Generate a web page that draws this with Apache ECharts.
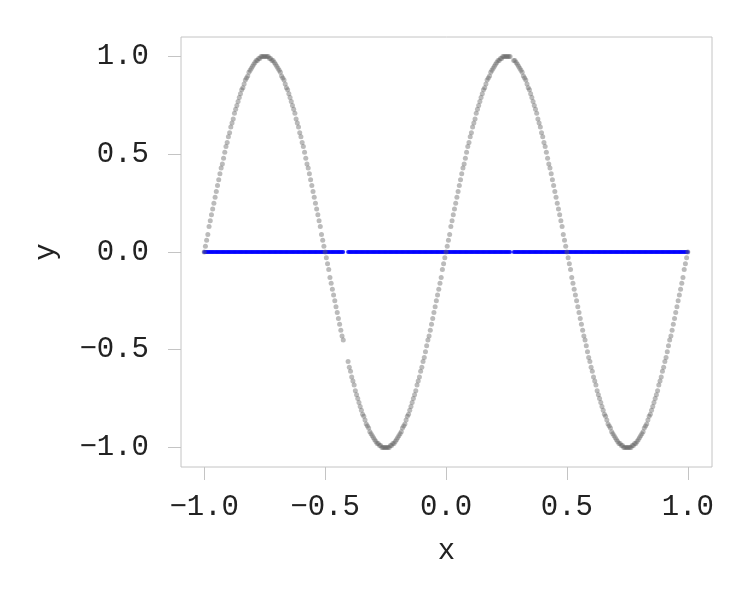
<!DOCTYPE html>
<html>
<head>
<meta charset="utf-8">
<script src="https://cdn.jsdelivr.net/npm/echarts@6/dist/echarts.min.js"></script>
<style>html,body{margin:0;padding:0;background:#fff}#c{width:750px;height:600px}</style>
</head>
<body>
<div id="c"></div>
<script>
const xTicks = [-1, -0.5, 0, 0.5, 1];
const yTicks = [-1, -0.5, 0, 0.5, 1];
const xName = 'x';
const yName = 'y';
const blueLevel = 0;
const grayPoints = [
[-1,0],[-0.995,0.03],[-0.99,0.06],[-0.985,0.09],[-0.98,0.13],[-0.975,0.16],[-0.97,0.19],[-0.965,0.22],[-0.96,0.25],[-0.955,0.28],
[-0.95,0.31],[-0.945,0.34],[-0.94,0.37],[-0.935,0.40],[-0.93,0.43],[-0.925,0.45],[-0.92,0.48],[-0.915,0.51],[-0.91,0.54],[-0.905,0.56],
[-0.9,0.59],[-0.895,0.61],[-0.89,0.64],[-0.885,0.66],[-0.88,0.68],[-0.875,0.71],[-0.87,0.73],[-0.865,0.75],[-0.86,0.77],[-0.855,0.79],
[-0.85,0.81],[-0.845,0.83],[-0.84,0.84],[-0.835,0.86],[-0.83,0.88],[-0.825,0.89],[-0.82,0.90],[-0.815,0.92],[-0.81,0.93],[-0.805,0.94],
[-0.8,0.95],[-0.795,0.96],[-0.79,0.97],[-0.785,0.98],[-0.78,0.98],[-0.775,0.99],[-0.77,0.99],[-0.765,1],[-0.76,1],[-0.755,1],
[-0.75,1],[-0.745,1],[-0.74,1],[-0.735,1],[-0.73,0.99],[-0.725,0.99],[-0.72,0.98],[-0.715,0.98],[-0.71,0.97],[-0.705,0.96],
[-0.7,0.95],[-0.695,0.94],[-0.69,0.93],[-0.685,0.92],[-0.68,0.90],[-0.675,0.89],[-0.67,0.88],[-0.665,0.86],[-0.66,0.84],[-0.655,0.83],
[-0.65,0.81],[-0.645,0.79],[-0.64,0.77],[-0.635,0.75],[-0.63,0.73],[-0.625,0.71],[-0.62,0.68],[-0.615,0.66],[-0.61,0.64],[-0.605,0.61],
[-0.6,0.59],[-0.595,0.56],[-0.59,0.54],[-0.585,0.51],[-0.58,0.48],[-0.575,0.45],[-0.57,0.43],[-0.565,0.40],[-0.56,0.37],[-0.555,0.34],
[-0.55,0.31],[-0.545,0.28],[-0.54,0.25],[-0.535,0.22],[-0.53,0.19],[-0.525,0.16],[-0.52,0.13],[-0.515,0.09],[-0.51,0.06],[-0.505,0.03],
[-0.5,0],[-0.495,-0.03],[-0.49,-0.06],[-0.485,-0.09],[-0.48,-0.13],[-0.475,-0.16],[-0.47,-0.19],[-0.465,-0.22],[-0.46,-0.25],[-0.455,-0.28],
[-0.45,-0.31],[-0.445,-0.34],[-0.44,-0.37],[-0.435,-0.40],[-0.43,-0.43],[-0.425,-0.45],[-0.405,-0.56],
[-0.4,-0.59],[-0.395,-0.61],[-0.39,-0.64],[-0.385,-0.66],[-0.38,-0.68],[-0.375,-0.71],[-0.37,-0.73],[-0.365,-0.75],[-0.36,-0.77],[-0.355,-0.79],
[-0.35,-0.81],[-0.345,-0.83],[-0.34,-0.84],[-0.335,-0.86],[-0.33,-0.88],[-0.325,-0.89],[-0.32,-0.90],[-0.315,-0.92],[-0.31,-0.93],[-0.305,-0.94],
[-0.3,-0.95],[-0.295,-0.96],[-0.29,-0.97],[-0.285,-0.98],[-0.28,-0.98],[-0.275,-0.99],[-0.27,-0.99],[-0.265,-1],[-0.26,-1],[-0.255,-1],
[-0.25,-1],[-0.245,-1],[-0.24,-1],[-0.235,-1],[-0.23,-0.99],[-0.225,-0.99],[-0.22,-0.98],[-0.215,-0.98],[-0.21,-0.97],[-0.205,-0.96],
[-0.2,-0.95],[-0.195,-0.94],[-0.19,-0.93],[-0.185,-0.92],[-0.18,-0.90],[-0.175,-0.89],[-0.17,-0.88],[-0.165,-0.86],[-0.16,-0.84],[-0.155,-0.83],
[-0.15,-0.81],[-0.145,-0.79],[-0.14,-0.77],[-0.135,-0.75],[-0.13,-0.73],[-0.125,-0.71],[-0.12,-0.68],[-0.115,-0.66],[-0.11,-0.64],[-0.105,-0.61],
[-0.1,-0.59],[-0.095,-0.56],[-0.09,-0.54],[-0.085,-0.51],[-0.08,-0.48],[-0.075,-0.45],[-0.07,-0.43],[-0.065,-0.40],[-0.06,-0.37],[-0.055,-0.34],
[-0.05,-0.31],[-0.045,-0.28],[-0.04,-0.25],[-0.035,-0.22],[-0.03,-0.19],[-0.025,-0.16],[-0.02,-0.13],[-0.015,-0.09],[-0.01,-0.06],[-0.005,-0.03],
[0,0],[0.005,0.03],[0.01,0.06],[0.015,0.09],[0.02,0.13],[0.025,0.16],[0.03,0.19],[0.035,0.22],[0.04,0.25],[0.045,0.28],
[0.05,0.31],[0.055,0.34],[0.06,0.37],[0.065,0.40],[0.07,0.43],[0.075,0.45],[0.08,0.48],[0.085,0.51],[0.09,0.54],[0.095,0.56],
[0.1,0.59],[0.105,0.61],[0.11,0.64],[0.115,0.66],[0.12,0.68],[0.125,0.71],[0.13,0.73],[0.135,0.75],[0.14,0.77],[0.145,0.79],
[0.15,0.81],[0.155,0.83],[0.16,0.84],[0.165,0.86],[0.17,0.88],[0.175,0.89],[0.18,0.90],[0.185,0.92],[0.19,0.93],[0.195,0.94],
[0.2,0.95],[0.205,0.96],[0.21,0.97],[0.215,0.98],[0.22,0.98],[0.225,0.99],[0.23,0.99],[0.235,1],[0.24,1],[0.245,1],
[0.25,1],[0.255,1],[0.26,1],[0.265,1],[0.28,0.98],[0.285,0.98],[0.29,0.97],[0.295,0.96],
[0.3,0.95],[0.305,0.94],[0.31,0.93],[0.315,0.92],[0.32,0.90],[0.325,0.89],[0.33,0.88],[0.335,0.86],[0.34,0.84],[0.345,0.83],
[0.35,0.81],[0.355,0.79],[0.36,0.77],[0.365,0.75],[0.37,0.73],[0.375,0.71],[0.38,0.68],[0.385,0.66],[0.39,0.64],[0.395,0.61],
[0.4,0.59],[0.405,0.56],[0.41,0.54],[0.415,0.51],[0.42,0.48],[0.425,0.45],[0.43,0.43],[0.435,0.40],[0.44,0.37],[0.445,0.34],
[0.45,0.31],[0.455,0.28],[0.46,0.25],[0.465,0.22],[0.47,0.19],[0.475,0.16],[0.48,0.13],[0.485,0.09],[0.49,0.06],[0.495,0.03],
[0.5,0],[0.505,-0.03],[0.51,-0.06],[0.515,-0.09],[0.52,-0.13],[0.525,-0.16],[0.53,-0.19],[0.535,-0.22],[0.54,-0.25],[0.545,-0.28],
[0.55,-0.31],[0.555,-0.34],[0.56,-0.37],[0.565,-0.40],[0.57,-0.43],[0.575,-0.45],[0.58,-0.48],[0.585,-0.51],[0.59,-0.54],[0.595,-0.56],
[0.6,-0.59],[0.605,-0.61],[0.61,-0.64],[0.615,-0.66],[0.62,-0.68],[0.625,-0.71],[0.63,-0.73],[0.635,-0.75],[0.64,-0.77],[0.645,-0.79],
[0.65,-0.81],[0.655,-0.83],[0.66,-0.84],[0.665,-0.86],[0.67,-0.88],[0.675,-0.89],[0.68,-0.90],[0.685,-0.92],[0.69,-0.93],[0.695,-0.94],
[0.7,-0.95],[0.705,-0.96],[0.71,-0.97],[0.715,-0.98],[0.72,-0.98],[0.725,-0.99],[0.73,-0.99],[0.735,-1],[0.74,-1],[0.745,-1],
[0.75,-1],[0.755,-1],[0.76,-1],[0.765,-1],[0.77,-0.99],[0.775,-0.99],[0.78,-0.98],[0.785,-0.98],[0.79,-0.97],[0.795,-0.96],
[0.8,-0.95],[0.805,-0.94],[0.81,-0.93],[0.815,-0.92],[0.82,-0.90],[0.825,-0.89],[0.83,-0.88],[0.835,-0.86],[0.84,-0.84],[0.845,-0.83],
[0.85,-0.81],[0.855,-0.79],[0.86,-0.77],[0.865,-0.75],[0.87,-0.73],[0.875,-0.71],[0.88,-0.68],[0.885,-0.66],[0.89,-0.64],[0.895,-0.61],
[0.9,-0.59],[0.905,-0.56],[0.91,-0.54],[0.915,-0.51],[0.92,-0.48],[0.925,-0.45],[0.93,-0.43],[0.935,-0.40],[0.94,-0.37],[0.945,-0.34],
[0.95,-0.31],[0.955,-0.28],[0.96,-0.25],[0.965,-0.22],[0.97,-0.19],[0.975,-0.16],[0.98,-0.13],[0.985,-0.09],[0.99,-0.06],[0.995,-0.03],
[1,0]
];
const bluePoints = grayPoints.map(p => [p[0], blueLevel]);

const fontFamily = '"Liberation Mono", "DejaVu Sans Mono", monospace';
const fmt = v => (Math.round(v * 10) / 10).toFixed(1).replace('-', '\u2212');
const chart = echarts.init(document.getElementById('c'), null, {renderer: 'canvas'});
chart.setOption({
  animation: false,
  backgroundColor: '#ffffff',
  grid: {left: 181, right: 38, top: 37, bottom: 133, show: true, borderColor: '#c4c4c4', borderWidth: 1, backgroundColor: 'transparent'},
  xAxis: {
    type: 'value', min: -1.096, max: 1.1,
    name: xName, nameLocation: 'middle', nameGap: 70,
    nameTextStyle: {fontFamily, fontSize: 29, color: '#222'},
    axisLine: {show: false, onZero: false},
    splitLine: {show: false},
    axisTick: {show: true, length: 13, customValues: xTicks, lineStyle: {color: '#c4c4c4', width: 1}},
    axisLabel: {customValues: xTicks, formatter: fmt, fontFamily, fontSize: 29, color: '#222', margin: 26}
  },
  yAxis: {
    type: 'value', min: -1.1, max: 1.1,
    name: yName, nameLocation: 'middle', nameGap: 120, nameRotate: 90,
    nameTextStyle: {fontFamily, fontSize: 29, color: '#222'},
    axisLine: {show: false, onZero: false},
    splitLine: {show: false},
    axisTick: {show: true, length: 13, customValues: yTicks, lineStyle: {color: '#c4c4c4', width: 1}},
    axisLabel: {customValues: yTicks, formatter: fmt, fontFamily, fontSize: 29, color: '#222', margin: 32}
  },
  series: [
    {type: 'scatter', data: bluePoints, symbolSize: 4, itemStyle: {color: '#0000ff'}, silent: true},
    {type: 'scatter', data: grayPoints, symbolSize: 5, itemStyle: {color: 'rgba(100,100,100,0.55)'}, silent: true}
  ]
});
</script>
</body>
</html>
